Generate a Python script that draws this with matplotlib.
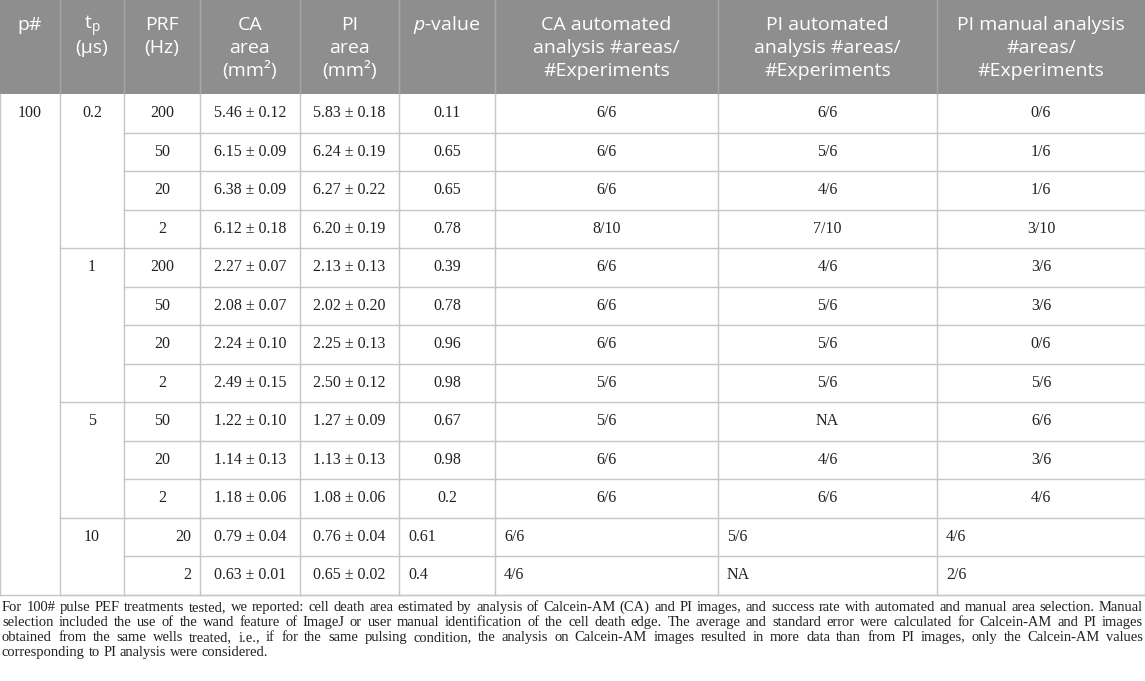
import matplotlib
matplotlib.use('Agg')
import matplotlib.pyplot as plt

plt.rcParams['mathtext.fontset'] = 'custom'
plt.rcParams['mathtext.rm'] = 'Open Sans'
plt.rcParams['mathtext.it'] = 'Open Sans:italic'

# table data
headers = [['p#'], [r'$\mathregular{t_{p}}$', '(μs)'], ['PRF', '(Hz)'], ['CA', 'area', '(mm²)'],
           ['PI', 'area', '(mm²)'], [r'$\mathit{p}$-value'],
           ['CA automated', 'analysis #areas/', '#Experiments'],
           ['PI automated', 'analysis #areas/', '#Experiments'],
           ['PI manual analysis', '#areas/', '#Experiments']]
pulse_num = '100'
tp_groups = ['0.2', '1', '5', '10']
tp_sizes = [4, 4, 3, 2]
prf = [200, 50, 20, 2, 200, 50, 20, 2, 50, 20, 2, 20, 2]
ca_mean = [5.46, 6.15, 6.38, 6.12, 2.27, 2.08, 2.24, 2.49, 1.22, 1.14, 1.18, 0.79, 0.63]
ca_err = [0.12, 0.09, 0.09, 0.18, 0.07, 0.07, 0.10, 0.15, 0.10, 0.13, 0.06, 0.04, 0.01]
pi_mean = [5.83, 6.24, 6.27, 6.20, 2.13, 2.02, 2.25, 2.50, 1.27, 1.13, 1.08, 0.76, 0.65]
pi_err = [0.18, 0.19, 0.22, 0.19, 0.13, 0.20, 0.13, 0.12, 0.09, 0.13, 0.06, 0.04, 0.02]
p_value = ['0.11', '0.65', '0.65', '0.78', '0.39', '0.78', '0.96', '0.98', '0.67', '0.98', '0.2', '0.61', '0.4']
ca_auto = ['6/6', '6/6', '6/6', '8/10', '6/6', '6/6', '6/6', '5/6', '5/6', '6/6', '6/6', '6/6', '4/6']
pi_auto = ['6/6', '5/6', '4/6', '7/10', '4/6', '5/6', '5/6', '5/6', 'NA', '4/6', '6/6', '5/6', 'NA']
pi_manual = ['0/6', '1/6', '1/6', '3/10', '3/6', '3/6', '0/6', '5/6', '6/6', '3/6', '4/6', '4/6', '2/6']

caption = [
    'For 100# pulse PEF treatments tested, we reported: cell death area estimated by analysis of Calcein-AM (CA) and PI images, and success rate with automated and manual area selection. Manual',
    'selection included the use of the wand feature of ImageJ or user manual identification of the cell death edge. The average and standard error were calculated for Calcein-AM and PI images',
    'obtained from the same wells treated, i.e., if for the same pulsing condition, the analysis on Calcein-AM images resulted in more data than from PI images, only the Calcein-AM values',
    'corresponding to PI analysis were considered.',
]

# layout (pixels)
W, H = 1145, 681
col_x = [0, 60, 124, 200, 300, 399, 495, 718, 937, 1145]
head_h = 94
row_h = 38.5
n_rows = len(prf)
table_bottom = head_h + row_h * n_rows
head_color = '#8e8e8e'
grid_color = '#c6c6c6'
text_color = '#222222'
body_font = 'Liberation Serif'

fig = plt.figure(figsize=(W / 100, H / 100), dpi=100)
ax = fig.add_axes([0, 0, 1, 1])
ax.set_xlim(0, W)
ax.set_ylim(H, 0)
ax.axis('off')
renderer = fig.canvas.get_renderer()

# header
ax.add_patch(plt.Rectangle((0, 0), W, head_h, color=head_color, lw=0))
for x in col_x[1:-1]:
    ax.plot([x, x], [0, head_h], color='#a8a8a8', lw=1)
head_y = [25, 48, 71]
for i, lines in enumerate(headers):
    cx = (col_x[i] + col_x[i + 1]) / 2
    for j, s in enumerate(lines):
        ax.text(cx, head_y[j] + 5, s, ha='center', va='baseline', color='white',
                fontsize=14, family='Open Sans')

# body grid
def row_y(i):
    return head_h + row_h * i

for x in col_x:
    ax.plot([x, x], [head_h, table_bottom], color=grid_color, lw=1)
for i in range(1, n_rows + 1):
    ax.plot([col_x[2], W], [row_y(i), row_y(i)], color=grid_color, lw=1)
start = 0
for s in tp_sizes:
    start += s
    ax.plot([col_x[1], col_x[2]], [row_y(start), row_y(start)], color=grid_color, lw=1)
ax.plot([0, W], [table_bottom, table_bottom], color=grid_color, lw=1)

def cell(col, i, s, align='center'):
    y = row_y(i) + row_h / 2
    if align == 'center':
        x, ha = (col_x[col] + col_x[col + 1]) / 2, 'center'
    elif align == 'left':
        x, ha = col_x[col] + 9, 'left'
    else:
        x, ha = col_x[col + 1] - 9, 'right'
    ax.text(x, y, s, ha=ha, va='center', fontsize=11.5, family=body_font, color=text_color)

cell(0, 0, pulse_num)
start = 0
for g, s in zip(tp_groups, tp_sizes):
    cell(1, start, g)
    start += s

last_group = n_rows - tp_sizes[-1]
for i in range(n_rows):
    odd = i >= last_group
    cell(2, i, str(prf[i]), 'right' if odd else 'center')
    cell(3, i, f'{ca_mean[i]:.2f} ± {ca_err[i]:.2f}')
    cell(4, i, f'{pi_mean[i]:.2f} ± {pi_err[i]:.2f}')
    a = 'left' if odd else 'center'
    cell(5, i, p_value[i], a)
    cell(6, i, ca_auto[i], a)
    cell(7, i, pi_auto[i], a)
    cell(8, i, pi_manual[i], a)

# caption, justified; size so the widest line nearly fills the width
x0, x1 = 2, 1143
probe = ax.text(0, 0, '', fontsize=10, family=body_font)
widest = 0
for line in caption[:3]:
    probe.set_text(line)
    widest = max(widest, probe.get_window_extent(renderer).width)
probe.remove()
cap_size = 10 * (x1 - x0) * 0.985 / widest

cap_y = [607, 622, 637, 652]
for k, line in enumerate(caption):
    words = line.split(' ')
    texts = [ax.text(0, cap_y[k] + 4, w, ha='left', va='baseline', fontsize=cap_size,
                     family=body_font, color=text_color) for w in words]
    widths = [t.get_window_extent(renderer).width for t in texts]
    if k < len(caption) - 1:
        gap = (x1 - x0 - sum(widths)) / (len(words) - 1)
    else:
        sp = ax.text(0, 0, 'a a', fontsize=cap_size, family=body_font)
        sp2 = ax.text(0, 0, 'aa', fontsize=cap_size, family=body_font)
        gap = sp.get_window_extent(renderer).width - sp2.get_window_extent(renderer).width
        sp.remove()
        sp2.remove()
    x = x0
    for t, w in zip(texts, widths):
        t.set_x(x)
        x += w + gap

fig.savefig('out.png', dpi=100)
